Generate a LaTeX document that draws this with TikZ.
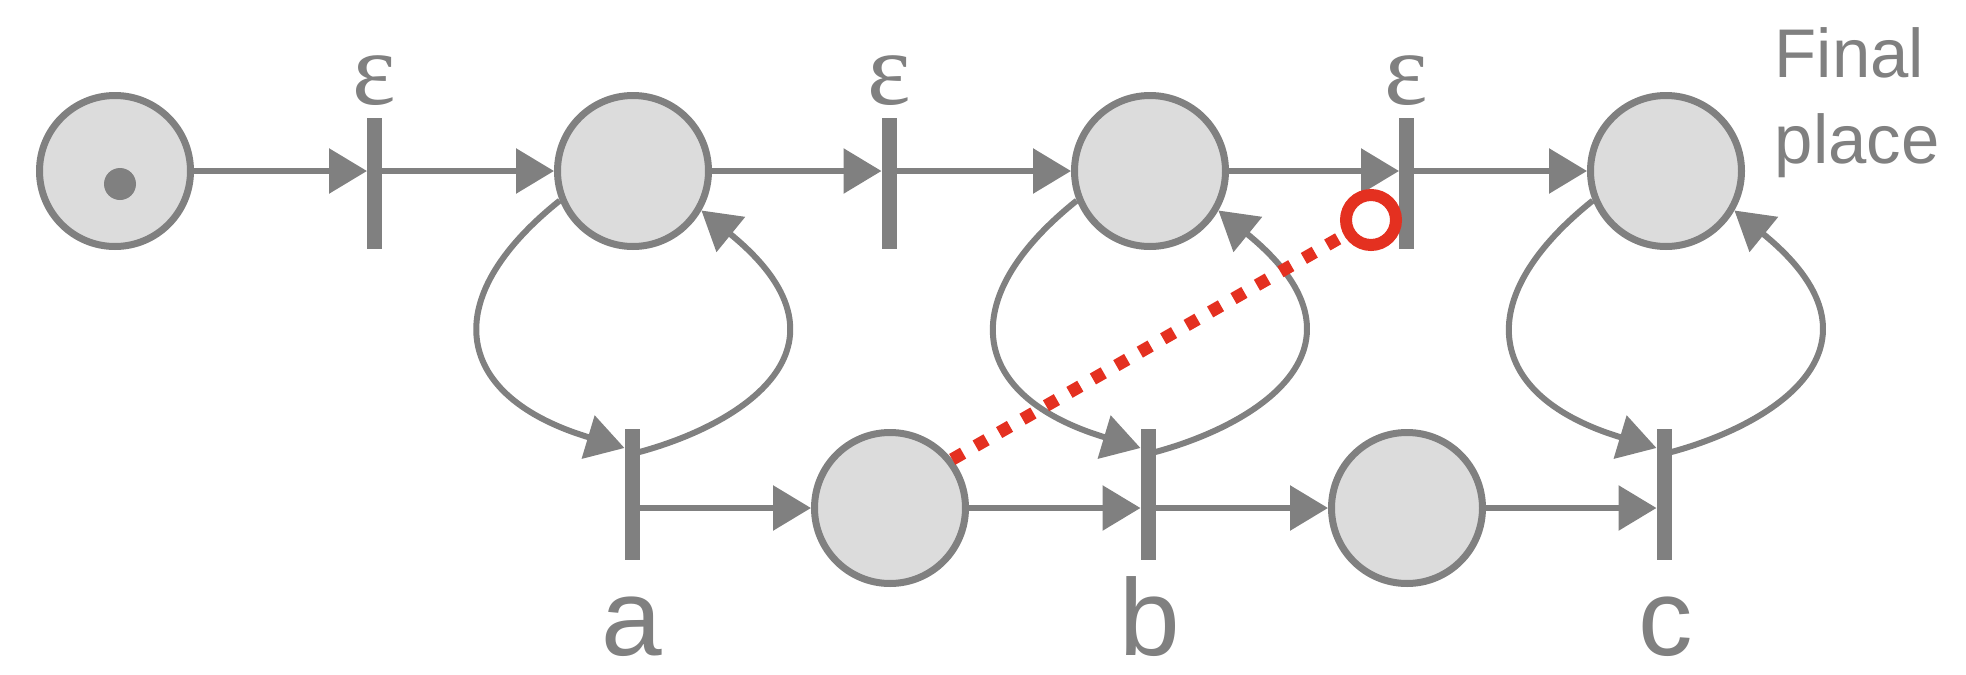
\documentclass[tikz,border=0pt]{standalone}
\usepackage{fontspec}
\setmainfont{Liberation Sans}
\newfontfamily\epsfont{Liberation Serif}
\usetikzlibrary{arrows.meta}
\definecolor{gr}{RGB}{128,128,128}
\definecolor{pfill}{RGB}{220,220,220}
\definecolor{redc}{RGB}{228,48,32}
\begin{document}
\begin{tikzpicture}[x=0.1mm,y=0.1mm,
  place/.style={circle, draw=gr, fill=pfill, line width=0.7mm, minimum size=15.1mm, inner sep=0pt},
  trans/.style={rectangle, fill=gr, draw=none, minimum width=1.5mm, minimum height=13.1mm, inner sep=0pt, outer sep=0pt},
  token/.style={circle, fill=gr, draw=none, minimum size=3.2mm, inner sep=0pt},
  arc/.style={draw=gr, line width=0.6mm, -{Triangle[length=3.8mm, width=4.4mm]}},
  epslabel/.style={text=gr, anchor=base, inner sep=0pt, font=\epsfont\fontsize{29.5}{32}\selectfont},
  letlabel/.style={text=gr, anchor=base, inner sep=0pt, font=\fontsize{31}{34}\selectfont},
  ring/.style={circle, draw=redc, fill=white, line width=1.2mm, minimum size=5mm, inner sep=0pt},
  reddot/.style={draw=redc, line width=1.25mm, dash pattern=on 1.25mm off 1.45mm}
]
\useasboundingbox (0,0) rectangle (1966,674);
% places
\node[place] (P0) at (115,503) {};
\node[place] (P1) at (633,503) {};
\node[place] (P2) at (1150,503) {};
\node[place] (P3) at (1666,503) {};
\node[place] (Q1) at (890,166) {};
\node[place] (Q2) at (1407,166) {};
\node[token] (tok) at (120,490) {};
% transitions
\node[trans] (T1) at (374.5,490.5) {};
\node[trans] (T2) at (889,490.5) {};
\node[trans] (T3) at (1406.5,490.5) {};
\node[trans] (Ta) at (632,179.5) {};
\node[trans] (Tb) at (1148,179.5) {};
\node[trans] (Tc) at (1664,179.5) {};
% labels
\node[epslabel] (e1) at (374,570) {ε};
\node[epslabel] (e2) at (889,570) {ε};
\node[epslabel] (e3) at (1406,570) {ε};
\node[letlabel] (la) at (632,19) {a};
\node[letlabel] (lb) at (1150,19) {b};
\node[letlabel] (lc) at (1666,19) {c};
\node[text=gr, anchor=base west, align=left, inner sep=0pt,
      font=\fontsize{19.6}{24.2}\selectfont] (fin) at (1774,511) {Final\\place};
% top row arcs
\draw[arc] (P0.east) -- (P0.east -| T1.west);
\draw[arc] (T1.east |- P1.west) -- (P1.west);
\draw[arc] (P1.east) -- (P1.east -| T2.west);
\draw[arc] (T2.east |- P2.west) -- (P2.west);
\draw[arc] (P2.east) -- (P2.east -| T3.west);
\draw[arc] (T3.east |- P3.west) -- (P3.west);
% bottom row arcs
\draw[arc] (Ta.east |- Q1.west) -- (Q1.west);
\draw[arc] (Q1.east) -- (Q1.east -| Tb.west);
\draw[arc] (Tb.east |- Q2.west) -- (Q2.west);
\draw[arc] (Q2.east) -- (Q2.east -| Tc.west);
% loops
\foreach \p/\t in {P1/Ta, P2/Tb, P3/Tc}{
  \draw[arc] (\p.202) .. controls +(-125,-100) and +(-170,51) .. ([yshift=-1.9mm]\t.north west);
  \draw[arc] ([yshift=-2.3mm]\t.north east) .. controls +(110,30) and +(162,-132) .. (\p.-30);
}
% red link
\node[ring] (rr) at (1371,454) {};
\draw[reddot] (Q1.38) -- (rr);
\end{tikzpicture}
\end{document}
